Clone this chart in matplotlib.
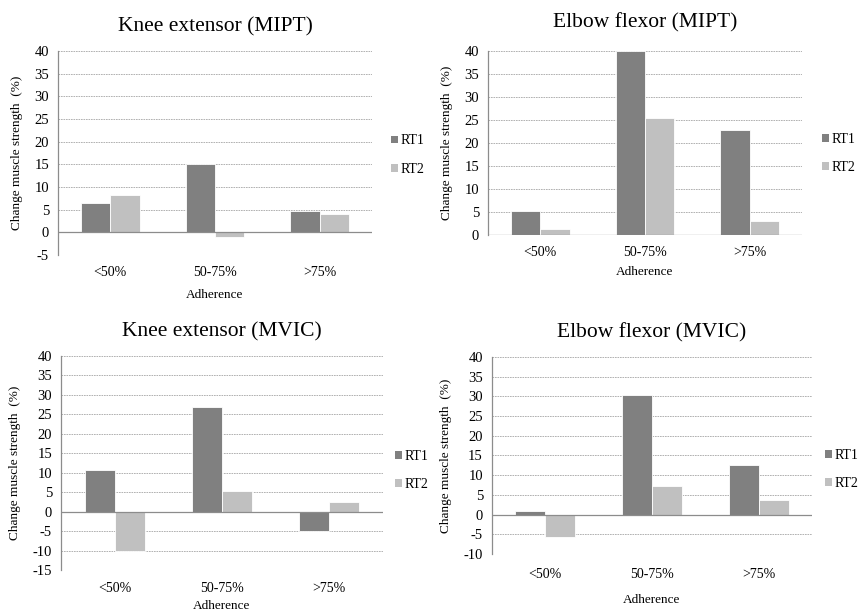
import numpy as np
import matplotlib
matplotlib.use("Agg")
import matplotlib.pyplot as plt
from matplotlib.patches import Patch

plt.rcParams["font.family"] = ["Liberation Serif", "DejaVu Serif"]
plt.rcParams["axes.unicode_minus"] = False

categories = ["<50%", "50-75%", ">75%"]
series_names = ["RT1", "RT2"]

titles = ["Knee extensor (MIPT)", "Elbow flexor (MIPT)",
          "Knee extensor (MVIC)", "Elbow flexor (MVIC)"]

knee_mipt_rt1 = [6.5, 15.0, 4.7]
knee_mipt_rt2 = [8.2, -1.0, 4.1]
elbow_mipt_rt1 = [5.2, 40.0, 22.8]
elbow_mipt_rt2 = [1.3, 25.5, 3.0]
knee_mvic_rt1 = [10.8, 27.0, -4.9]
knee_mvic_rt2 = [-10.0, 5.2, 2.6]
elbow_mvic_rt1 = [0.8, 30.4, 12.5]
elbow_mvic_rt2 = [-5.6, 7.2, 3.8]

y_ranges = [(-5, 40), (0, 40), (-15, 40), (-10, 40)]

COLORS = ["#808080", "#c0c0c0"]
GRID = "#a6a6a6"
AXIS = "#8c8c8c"

# axes boxes in figure fraction, legend anchor, title / tick / xlabel pads
panels = [
    dict(rect=[0.0676, 0.5833, 0.366, 0.3333], leg=(1.06, 0.49), tpad=14, xpad=8, lpad=7),
    dict(rect=[0.5688, 0.6160, 0.366, 0.3006], leg=(1.064, 0.443), tpad=17, xpad=8, lpad=5),
    dict(rect=[0.0711, 0.0686, 0.3753, 0.3497], leg=(1.037, 0.465), tpad=14, xpad=8.5, lpad=4),
    dict(rect=[0.5734, 0.0948, 0.373, 0.3219], leg=(1.04, 0.43), tpad=14, xpad=10, lpad=9.5),
]

data = [
    (knee_mipt_rt1, knee_mipt_rt2),
    (elbow_mipt_rt1, elbow_mipt_rt2),
    (knee_mvic_rt1, knee_mvic_rt2),
    (elbow_mvic_rt1, elbow_mvic_rt2),
]

fig = plt.figure(figsize=(8.58, 6.12), dpi=100)

x = np.arange(len(categories)) + 0.5
w = 0.28

for p, title, (rt1, rt2), (ymin, ymax) in zip(panels, titles, data, y_ranges):
    ax = fig.add_axes(p["rect"])
    ax.bar(x - w / 2, rt1, w, color=COLORS[0], edgecolor="white", linewidth=0.6, zorder=3)
    ax.bar(x + w / 2, rt2, w, color=COLORS[1], edgecolor="white", linewidth=0.6, zorder=3)
    ax.set_xlim(0, 3)
    ax.set_ylim(ymin, ymax)
    ticks = np.arange(ymin, ymax + 1, 5)
    ax.set_yticks(ticks)
    for t in ticks:
        if t != 0:
            ax.axhline(t, color=GRID, lw=0.6, ls=(0, (2, 1)), zorder=1)
    ax.axhline(0, color=AXIS, lw=0.9, zorder=4)
    for s in ["top", "right", "bottom"]:
        ax.spines[s].set_visible(False)
    ax.spines["left"].set_color(AXIS)
    ax.spines["left"].set_linewidth(0.9)
    ax.set_xticks(x)
    ax.set_xticklabels(categories)
    ax.tick_params(axis="x", length=0, pad=p["xpad"], labelsize=10)
    ax.tick_params(axis="y", length=0, pad=6.5, labelsize=10.5)
    ax.set_xlabel("Adherence", fontsize=9.5, labelpad=p["lpad"])
    ax.set_ylabel("Change muscle strength  (%)", fontsize=9.5, labelpad=8)
    ax.set_title(title, fontsize=15.5, pad=p["tpad"])
    handles = [Patch(facecolor=c, label=n) for c, n in zip(COLORS, series_names)]
    ax.legend(handles=handles, loc="center left", bbox_to_anchor=p["leg"],
              frameon=False, fontsize=10, handlelength=0.5, handleheight=0.5,
              handletextpad=0.2, labelspacing=1.1, borderpad=0, borderaxespad=0)

fig.savefig("out.png", dpi=100)
